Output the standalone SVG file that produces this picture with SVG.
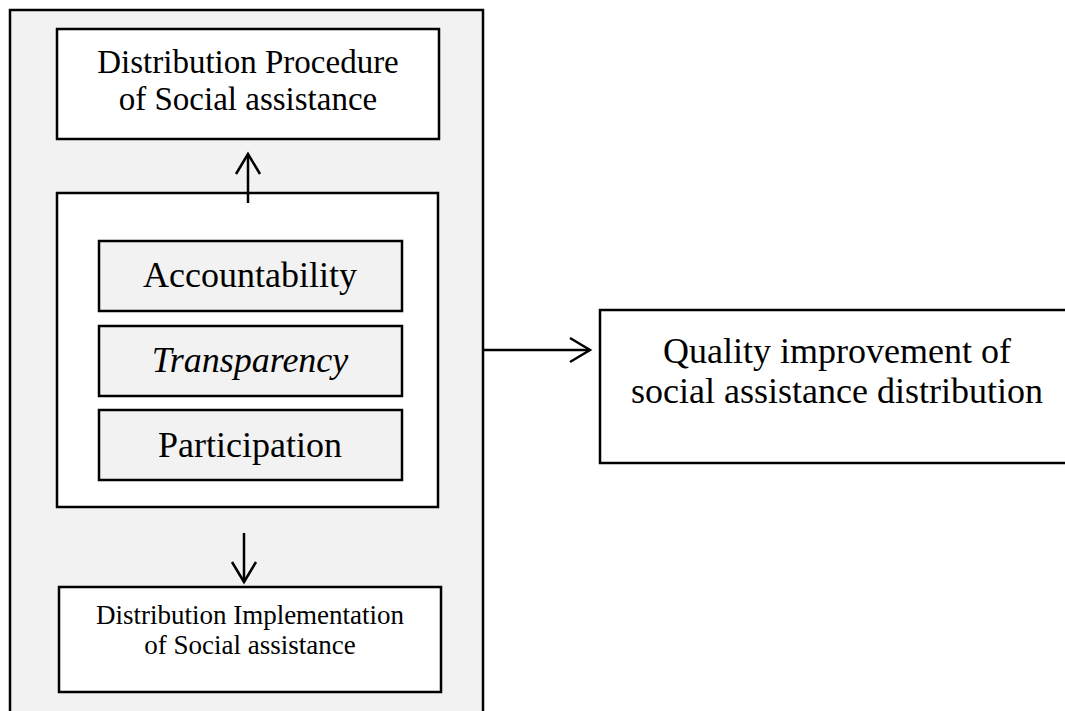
<svg xmlns="http://www.w3.org/2000/svg" width="1065" height="711" viewBox="0 0 1065 711">
  <style>
    .box { stroke: #000; stroke-width: 2.5; }
    .grey { fill: #f2f2f2; }
    .white { fill: #ffffff; }
    .t { font-family: "Liberation Serif", "Times New Roman", serif; fill: #000; text-anchor: middle; }
    .conn { fill: none; stroke: #000; stroke-width: 2.5; }
  </style>
  <defs>
    <marker id="ah" markerUnits="userSpaceOnUse" markerWidth="40" markerHeight="40" viewBox="-30 -20 40 40" refX="0" refY="0" orient="auto" overflow="visible">
      <path d="M-20,-12 L0,0 L-20,12" fill="none" stroke="#000" stroke-width="2.5" stroke-linejoin="miter"/>
    </marker>
  </defs>
  <rect width="1065" height="711" fill="#ffffff"/>

  <g id="outer">
    <rect class="box grey" x="10" y="10" width="473" height="730"/>
  </g>

  <g id="procedure">
    <rect class="box white" x="57" y="29" width="382" height="110"/>
    <text class="t" x="248" y="73" font-size="33">Distribution Procedure</text>
    <text class="t" x="248" y="110" font-size="33">of Social assistance</text>
  </g>

  <g id="principles">
    <rect class="box white" x="57" y="193" width="381" height="314"/>
  </g>

  <g id="accountability">
    <rect class="box grey" x="99" y="241" width="303" height="70"/>
    <text class="t" x="250" y="287" font-size="36">Accountability</text>
  </g>

  <g id="transparency">
    <rect class="box grey" x="99" y="326" width="303" height="70"/>
    <text class="t" x="250" y="372" font-size="36" font-style="italic">Transparency</text>
  </g>

  <g id="participation">
    <rect class="box grey" x="99" y="410" width="303" height="70"/>
    <text class="t" x="250" y="457" font-size="36">Participation</text>
  </g>

  <g id="implementation">
    <rect class="box white" x="59" y="587" width="382" height="105"/>
    <text class="t" x="250" y="624" font-size="27">Distribution Implementation</text>
    <text class="t" x="250" y="654" font-size="27">of Social assistance</text>
  </g>

  <g id="quality">
    <rect class="box white" x="600" y="310" width="480" height="153"/>
    <text class="t" x="837" y="363" font-size="36">Quality improvement of</text>
    <text class="t" x="837" y="403" font-size="36">social assistance distribution</text>
  </g>

  <g id="connectors">
    <path class="conn" d="M248,203 L248,154" marker-end="url(#ah)"/>
    <path class="conn" d="M244,533 L244,582" marker-end="url(#ah)"/>
    <path class="conn" d="M483,350 L590,350" marker-end="url(#ah)"/>
  </g>
</svg>
